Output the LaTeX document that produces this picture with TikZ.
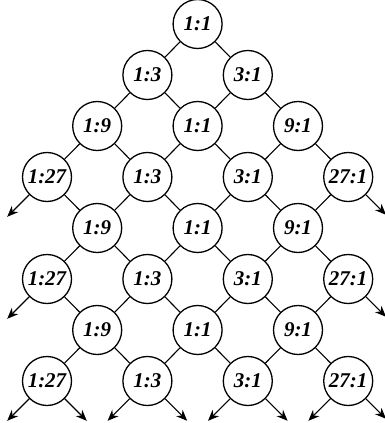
\documentclass[tikz,border=0pt]{standalone}
\usepackage{fontspec}
\setmainfont{Liberation Serif}
\usetikzlibrary{arrows.meta}
\begin{document}
\begin{tikzpicture}[x=1pt,y=-1pt,
  ratio/.style={circle,draw,line width=1.3pt,minimum size=49pt,inner sep=0pt,
    font=\fontsize{21}{21}\selectfont\bfseries\itshape},
  link/.style={line width=1.1pt},
  outarrow/.style={line width=1.1pt,-{Stealth[length=11pt,width=9pt,inset=3.5pt]}}]
\useasboundingbox (0,0) rectangle (384,423);
\foreach \r/\j in {0/3,1/2,1/4,2/1,2/3,2/5,3/0,3/2,3/4,3/6,4/1,4/3,4/5,
                   5/0,5/2,5/4,5/6,6/1,6/3,6/5,7/0,7/2,7/4,7/6}{
  \ifcase\j\relax \def\lbl{1:27}\or \def\lbl{1:9}\or \def\lbl{1:3}\or
    \def\lbl{1:1}\or \def\lbl{3:1}\or \def\lbl{9:1}\or \def\lbl{27:1}\fi
  \node[ratio] (n\r\j) at ({47+50.2*\j},{24+51*\r}) {\lbl};
}
\foreach \a/\b in {03/12,03/14,
                   12/21,12/23,14/23,14/25,
                   21/30,21/32,23/32,23/34,25/34,25/36,
                   30/41,32/41,32/43,34/43,34/45,36/45,
                   41/50,41/52,43/52,43/54,45/54,45/56,
                   50/61,52/61,52/63,54/63,54/65,56/65,
                   61/70,61/72,63/72,63/74,65/74,65/76}
  \draw[link] (n\a) -- (n\b);
\foreach \n in {30,50,70,72,74,76}
  \draw[outarrow] (n\n.south west) -- ++(-22,22);
\foreach \n in {70,72,74}
  \draw[outarrow] (n\n.south east) -- ++(22,22);
\foreach \n in {36,56,76}
  \draw[outarrow] (n\n.south east) -- ++(20,20);
\end{tikzpicture}
\end{document}
